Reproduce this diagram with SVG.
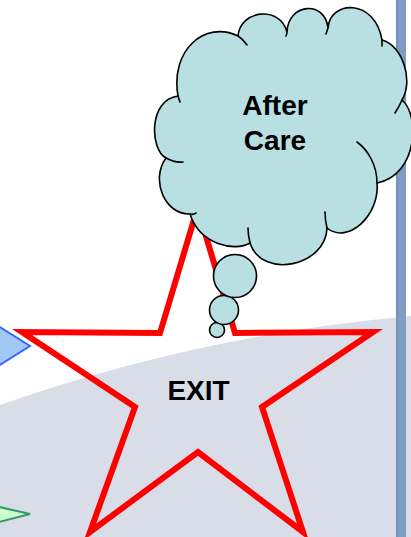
<svg xmlns="http://www.w3.org/2000/svg" width="411" height="537" viewBox="0 0 411 537">
  <defs>
    <style>
      .cloud { fill: #B8DFE2; stroke: #000; stroke-width: 1.6; }
      .notch { fill: none; stroke: #000; stroke-width: 1.6; stroke-linecap: round; }
      .star { fill: none; stroke: #FF0000; stroke-width: 6; stroke-linejoin: miter; stroke-miterlimit: 10; }
      .label { font-family: "Liberation Sans", Arial, sans-serif; font-weight: bold; font-size: 28px; fill: #000; text-anchor: middle; }
    </style>
  </defs>

  <!-- background -->
  <g id="background">
    <rect x="0" y="0" width="411" height="537" fill="#FFFFFF"/>
    <path d="M0,405 Q200,335 411,316 L411,537 L0,537 Z" fill="#D9DDE8"/>
    <rect x="396" y="0" width="10" height="537" fill="#7F9CC3"/>
    <rect x="396" y="0" width="2" height="537" fill="#7391BA"/>
  </g>

  <!-- partial shapes at left edge -->
  <g id="blue-diamond">
    <polygon points="-5,324 30,346 -5,368" fill="#A3C8F5" stroke="#3366FF" stroke-width="2"/>
  </g>
  <g id="green-triangle">
    <polygon points="-5,506 30,514 -5,523" fill="#CCFFCC" stroke="#339966" stroke-width="2"/>
  </g>

  <!-- EXIT star -->
  <g id="exit">
    <polygon class="star" points="197.5,208 235,333 373,332 262,407 303,532 198,452 90,532 135,407 22,332 160,333"/>
    <text class="label" x="198.5" y="400">EXIT</text>
  </g>

  <g id="connectors"/>

  <!-- After Care cloud callout -->
  <g id="after-care">
    <circle class="cloud" cx="217" cy="330" r="7.5"/>
    <circle class="cloud" cx="224" cy="310" r="14.5"/>
    <circle class="cloud" cx="235" cy="276" r="21.5"/>
    <path class="cloud" d="M178,96
      C170,50 205,20 238,36
      C240,10 280,5 287,32
      C288,3 325,0 328,28
      C330,0 375,-2 382,40
      C402,45 414,80 402,100
      C420,115 418,175 377,183
      C380,215 348,245 327,228
      C326,266 262,280 250,243
      C235,252 200,245 190,214
      C165,215 150,180 166,158
      C150,150 148,100 178,96 Z"/>
    <path class="notch" d="M178,96 Q179,99 180,102"/>
    <path class="notch" d="M238,36 Q243,39 247,45"/>
    <path class="notch" d="M287,32 Q287,34 286,36"/>
    <path class="notch" d="M328,28 Q327,31 326,34"/>
    <path class="notch" d="M382,40 Q382,43 382,46"/>
    <path class="notch" d="M402,100 Q399,107 395,113"/>
    <path class="notch" d="M377,183 C377,165 368,150 357,142"/>
    <path class="notch" d="M327,228 Q325,220 325,212"/>
    <path class="notch" d="M250,243 Q248,235 248,228"/>
    <path class="notch" d="M190,214 Q193,215 196,213"/>
    <path class="notch" d="M166,158 Q175,163 183,162"/>
    <text class="label" x="275" y="115">After</text>
    <text class="label" x="275" y="150">Care</text>
  </g>
</svg>
